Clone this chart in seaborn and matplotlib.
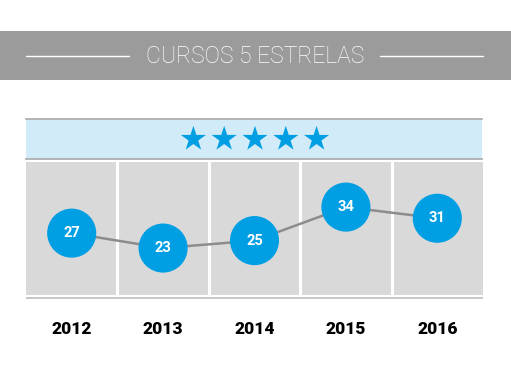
import numpy as np
import pandas as pd
import matplotlib
matplotlib.use("Agg")
import matplotlib.pyplot as plt
import seaborn as sns

# ---- data ----
years = ["2012", "2013", "2014", "2015", "2016"]
courses = [27, 23, 25, 34, 31]
title = "CURSOS 5 ESTRELAS"
n_stars = 5

sns.set_theme(style="white")
plt.rcParams["font.family"] = ["Roboto", "DejaVu Sans"]

W, H = 511, 372
fig = plt.figure(figsize=(W / 100, H / 100), dpi=100)
fig.patch.set_facecolor("white")

def px_axes(x0, y0, x1, y1):
    return fig.add_axes([x0 / W, 1 - y1 / H, (x1 - x0) / W, (y1 - y0) / H])

# ---- header band ----
hax = px_axes(0, 31, W, 80)
hax.set_facecolor("#9b9b9b")
hax.set_xlim(0, W)
hax.set_ylim(0, 1)
hax.set_xticks([]); hax.set_yticks([])
for s in hax.spines.values():
    s.set_visible(False)
hax.plot([26, 129], [0.5, 0.5], color="white", lw=1.0)
hax.plot([380, 483], [0.5, 0.5], color="white", lw=1.0)
hax.text(W / 2, 0.47, title, color="white", fontsize=16.5, fontweight="light",
         ha="center", va="center", family=["Roboto", "DejaVu Sans"])

# ---- stars band ----
sax = px_axes(26, 119, 482, 159)
sax.set_facecolor("#d1ebf8")
sax.set_xlim(0, 456)
sax.set_ylim(0, 1)
sax.set_xticks([]); sax.set_yticks([])
for k in ["left", "right"]:
    sax.spines[k].set_visible(False)
for k in ["top", "bottom"]:
    sax.spines[k].set_color("#a9a9a9")
    sax.spines[k].set_linewidth(1.2)
star_x = 229 + (np.arange(n_stars) - (n_stars - 1) / 2) * 30.8
sax.scatter(star_x, np.full(n_stars, 0.5), marker="*", s=360, color="#009fe3",
            edgecolor="none")

# ---- main chart ----
ax = px_axes(26, 162, 483, 295)
ax.set_facecolor("#d9d9d9")
x = np.arange(len(years))
df = pd.DataFrame({"x": x, "year": years, "courses": courses})
for i in range(len(years) - 1):
    ax.axvline(i + 0.5, color="white", lw=2.2)
sns.lineplot(data=df, x="x", y="courses", ax=ax, color="#8c8c8c", lw=1.8,
             zorder=2, legend=False)
sns.scatterplot(data=df, x="x", y="courses", ax=ax, s=1250, color="#009fe3",
                edgecolor="none", zorder=3, legend=False)
for xi, v in zip(x, courses):
    ax.text(xi, v, str(v), color="white", fontsize=10.5, fontweight="bold",
            ha="center", va="center", zorder=4)
ax.set_xlim(-0.5, len(years) - 0.5)
ax.set_ylim(10.4, 46.1)
ax.set_yticks([])
ax.set_xticks(x)
ax.set_xticklabels(years, fontsize=12.5, fontweight="black", color="black")
ax.tick_params(axis="x", length=0, pad=19)
ax.set_xlabel(""); ax.set_ylabel("")
for s in ax.spines.values():
    s.set_visible(False)

# bottom rule
bax = px_axes(26, 297, 483, 299)
bax.set_facecolor("#c8c8c8")
bax.set_xticks([]); bax.set_yticks([])
for s in bax.spines.values():
    s.set_visible(False)

fig.savefig("out.png", dpi=100, facecolor="white")
